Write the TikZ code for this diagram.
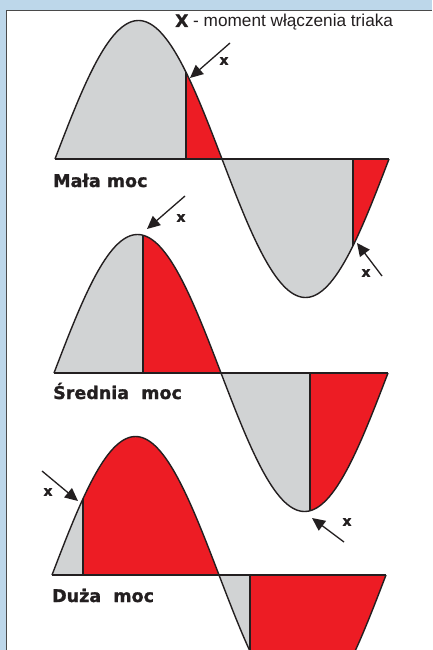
\documentclass[tikz,border=0pt]{standalone}
\usepackage{fontspec}
\setmainfont{Liberation Sans}
\newfontfamily\heavyfont{DejaVu Sans}[BoldFeatures={FakeBold=1.2}]
\usetikzlibrary{arrows.meta}

\definecolor{panelblue}{HTML}{BDD7EA}
\definecolor{framegray}{HTML}{4A4A4A}
\definecolor{wavegray}{HTML}{D1D3D4}
\definecolor{wavered}{HTML}{ED1C24}
\definecolor{waveline}{HTML}{231F20}

\begin{document}
\begin{tikzpicture}[
                x=1pt, y=-1pt,
                % Estilos
                wave line/.style={
                    draw=waveline,
                    line width=1.4pt,
                    line join=round
                },
                pointer/.style={
                    draw=waveline,
                    line width=1.3pt,
                    -{Triangle[length=13pt,width=12pt]}
                },
                x label/.style={
                    font=\heavyfont\bfseries\fontsize{14}{14}\selectfont,
                    text=waveline,
                    inner sep=0pt
                },
                power label/.style={
                    font=\heavyfont\bfseries\fontsize{17.5}{20}\selectfont,
                    text=waveline,
                    anchor=base west,
                    inner sep=0pt
                }
            ]

                \useasboundingbox (0,0) rectangle (432,650);

                % --- RAMKA ---
                \fill[panelblue] (0,0) rectangle (432,650);
                \fill[white] (6,11) rectangle (432,650);
                \draw[framegray, line width=1pt] (6,650) |- (432,11);

                % --- PARAMETRY SINUSOIDY ---
                \def\A{138.5}
                \def\H{167}
                \pgfmathsetmacro\k{180/\H}

                % --- PRZEBIEGI (MAŁA, ŚREDNIA, DUŻA MOC) ---
                \begin{scope}
                \clip (6.5,11.5) rectangle (432,650);
                \foreach \xo/\yb/\xf in {55/159/186, 54/373/143, 52/575/83} {
                    \pgfmathsetmacro\xc{\xo+\H}
                    \pgfmathsetmacro\xg{\xc+\xf-\xo}
                    \pgfmathsetmacro\xe{\xo+2*\H}

                    % Połówka dodatnia
                    \fill[wavegray] plot[domain=\xo:\xf, samples=40] (\x, {\yb-\A*sin(\k*(\x-\xo))}) -- (\xf,\yb) -- cycle;
                    \fill[wavered] plot[domain=\xf:\xc, samples=40] (\x, {\yb-\A*sin(\k*(\x-\xo))}) -- (\xf,\yb) -- cycle;

                    % Połówka ujemna
                    \fill[wavegray] plot[domain=\xc:\xg, samples=40] (\x, {\yb-\A*sin(\k*(\x-\xo))}) -- (\xg,\yb) -- cycle;
                    \fill[wavered] plot[domain=\xg:\xe, samples=40] (\x, {\yb-\A*sin(\k*(\x-\xo))}) -- (\xg,\yb) -- cycle;

                    % Kontury
                    \draw[wave line] (\xo,\yb) -- (\xe,\yb);
                    \draw[wave line] (\xf,\yb) -- (\xf, {\yb-\A*sin(\k*(\xf-\xo))});
                    \draw[wave line] (\xg,\yb) -- (\xg, {\yb-\A*sin(\k*(\xg-\xo))});
                    \draw[wave line] plot[domain=\xo:\xe, samples=160] (\x, {\yb-\A*sin(\k*(\x-\xo))});
                }
                \end{scope}

                % --- OPISY ---
                \node[anchor=base west, inner sep=0pt, text=waveline, font=\fontsize{17.2}{18}\selectfont] (title) at (175,27) {{\heavyfont\bfseries X} - moment włączenia triaka};
                \node[power label] (mala) at (53,187) {Mała moc};
                \node[power label] (srednia) at (53,399) {Średnia\ \ moc};
                \node[power label] (duza) at (52,602) {Duża\ \ moc};

                % --- STRZAŁKI (MOMENT WŁĄCZENIA) ---
                \coordinate (tail1) at (230,43);   \coordinate (tip1) at (190,78);
                \coordinate (tail2) at (382,276);  \coordinate (tip2) at (357,243);
                \coordinate (tail3) at (185,196);  \coordinate (tip3) at (147,229);
                \coordinate (tail4) at (344,542);  \coordinate (tip4) at (312,518);
                \coordinate (tail5) at (42,471);   \coordinate (tip5) at (78,501);

                \foreach \n in {1,...,5} {
                    \draw[pointer] (tail\n) -- (tip\n);
                }

                \node[x label] (x1) at (224,61) {x};
                \node[x label] (x2) at (366,273) {x};
                \node[x label] (x3) at (181,218) {x};
                \node[x label] (x4) at (347,522) {x};
                \node[x label] (x5) at (48,492) {x};

            \end{tikzpicture}
\end{document}
